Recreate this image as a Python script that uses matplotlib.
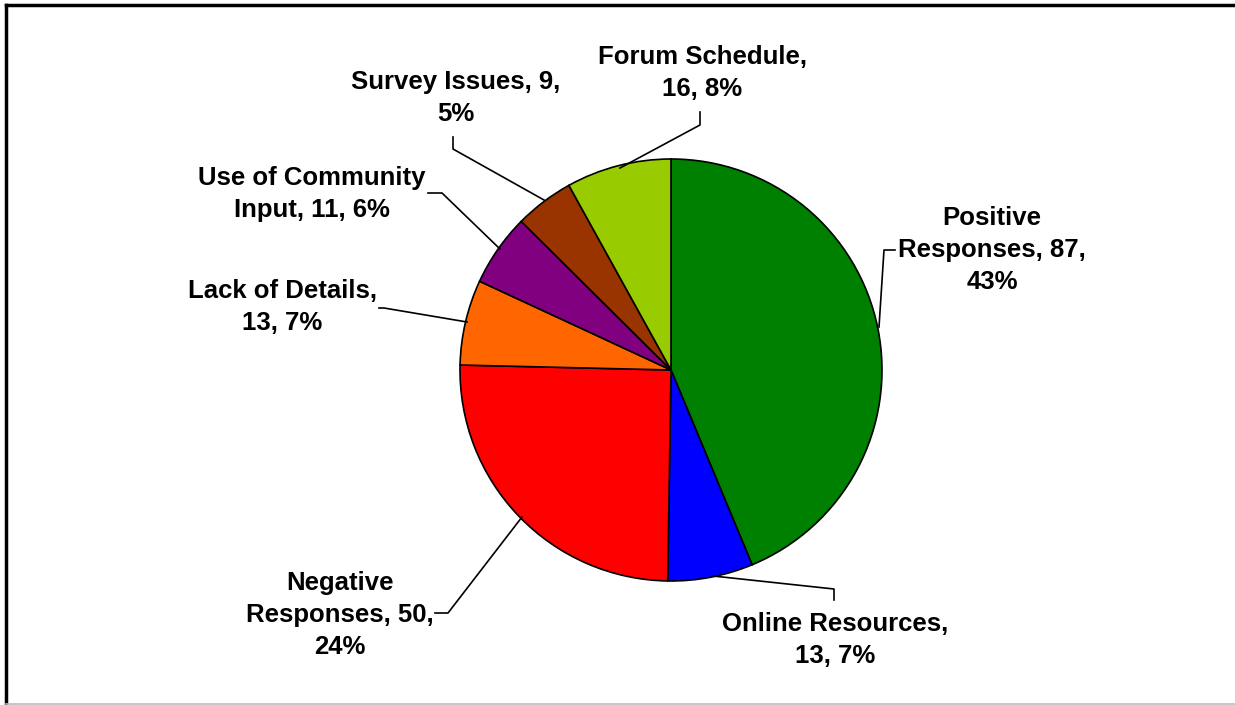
import matplotlib
matplotlib.use('Agg')
import matplotlib.pyplot as plt

# categories / counts / percent labels (clockwise from 12 o'clock)
categories = ['Positive Responses', 'Online Resources', 'Negative Responses',
              'Lack of Details', 'Use of Community Input', 'Survey Issues', 'Forum Schedule']
counts = [87, 13, 50, 13, 11, 9, 16]
pct_labels = ['43%', '7%', '24%', '7%', '6%', '5%', '8%']
colors = ['#008000', '#0000FF', '#FF0000', '#FF6600', '#800080', '#993300', '#99CC00']

W, H = 1235, 705

def P(x, y):
    # pixel coords (origin top-left) -> axes data coords
    return x, H - y

# line breaks as laid out on the chart
label_fmt = [
    'Positive\nResponses, {c},\n{p}',
    'Online Resources,\n{c}, {p}',
    'Negative\nResponses, {c},\n{p}',
    'Lack of Details,\n{c}, {p}',
    'Use of Community\nInput, {c}, {p}',
    'Survey Issues, {c},\n{p}',
    'Forum Schedule,\n{c}, {p}',
]

# label centres and leader polylines (pixels)
label_pos = [(992, 250), (835, 640), (340, 615), (282, 307), (312, 194), (456, 98), (702, 73)]
leaders = [
    [(879, 327), (884, 250), (895, 250)],
    [(713, 576), (834, 589), (834, 600)],
    [(522, 517), (448, 613), (435, 613)],
    [(467, 322), (384, 308), (379, 308)],
    [(500, 249), (442, 193), (428, 193)],
    [(544, 200), (453, 149), (453, 137)],
    [(620, 168), (700, 125), (700, 112)],
]

fig = plt.figure(figsize=(W / 100, H / 100), dpi=100)
ax = fig.add_axes([0, 0, 1, 1])

ax.pie(counts, colors=colors, startangle=90, counterclock=False,
       center=P(671, 370), radius=211, frame=True,
       wedgeprops=dict(edgecolor='black', linewidth=1.2))
ax.set_xlim(0, W)
ax.set_ylim(0, H)
ax.axis('off')

for fmt, c, p, (lx, ly), pts in zip(label_fmt, counts, pct_labels, label_pos, leaders):
    ax.text(*P(lx, ly), fmt.format(c=c, p=p), ha='center', va='center', fontsize=18.5,
            fontweight='bold', family='Liberation Sans', linespacing=1.42)
    xs = [q[0] for q in pts]
    ys = [H - q[1] for q in pts]
    ax.plot(xs, ys, color='black', lw=1.2)

# chart border: dark top/left, light bottom
ax.plot([6, W], [H - 5, H - 5], color='black', lw=2.5)
ax.plot([6, 6], [H - 5, 0], color='black', lw=2.5)
ax.plot([6, W], [1.5, 1.5], color='#bbbbbb', lw=1.2)

fig.savefig('out.png', dpi=100, facecolor='white')
